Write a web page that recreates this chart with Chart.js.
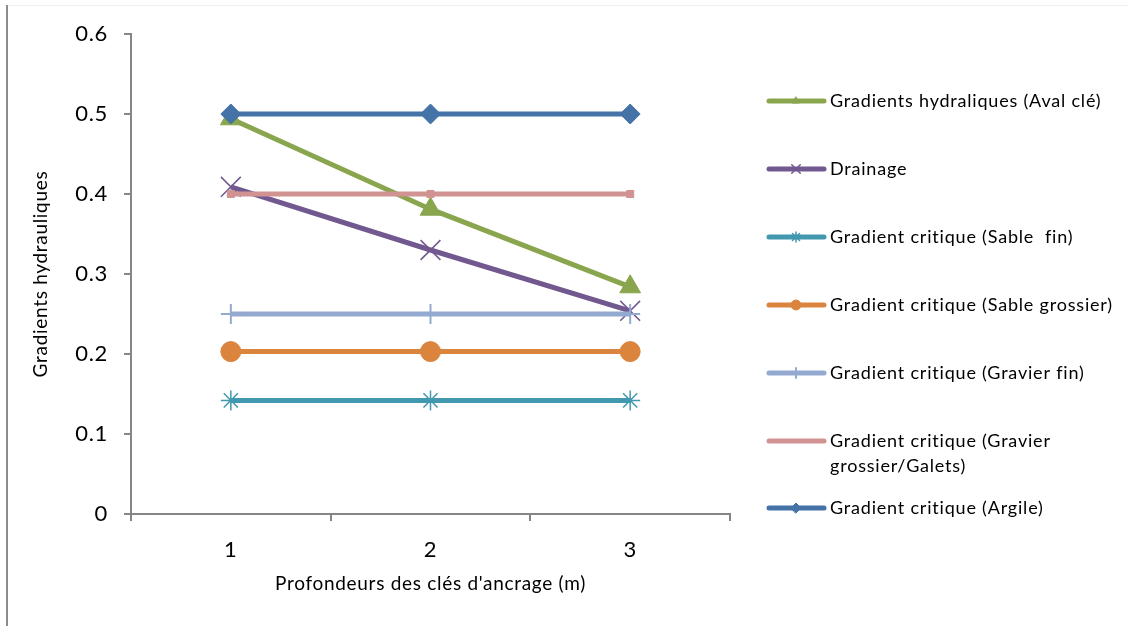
<!DOCTYPE html>
<html>
<head>
<meta charset="utf-8">
<script src="https://cdn.jsdelivr.net/npm/chart.js@4/dist/chart.umd.min.js"></script>
<style>
  html, body { margin: 0; padding: 0; background: #fff; }
  #wrap { width: 1129px; height: 626px; position: relative; }
</style>
</head>
<body>
<div id="wrap"><canvas id="chart"></canvas></div>
<script>
// données
const profondeurs = ['1', '2', '3'];
const avalCle = [0.494, 0.381, 0.284];
const drainage = [0.409, 0.330, 0.254];
const sableFin = [0.142, 0.142, 0.142];
const sableGrossier = [0.203, 0.203, 0.203];
const gravierFin = [0.25, 0.25, 0.25];
const gravierGrossier = [0.40, 0.40, 0.40];
const argile = [0.50, 0.50, 0.50];

const legendLabels = [
    ['Gradients hydraliques (Aval clé)'],
    ['Drainage'],
    ['Gradient critique (Sable  fin)'],
    ['Gradient critique (Sable grossier)'],
    ['Gradient critique (Gravier fin)'],
    ['Gradient critique (Gravier', 'grossier/Galets)'],
    ['Gradient critique (Argile)']
];

const FONT = 'Lato, "Open Sans", sans-serif';

function serie(label, data, color, style, radius, bw, legendRadius, idx) {
    return {
        label: label.join(' '),
        data: data,
        borderColor: color,
        backgroundColor: color,
        borderWidth: 5,
        pointStyle: style,
        pointRadius: radius,
        pointHoverRadius: radius,
        pointBorderWidth: bw,
        pointBorderColor: color,
        pointBackgroundColor: color,
        tension: 0,
        order: 10 - idx,
        legendRadius: legendRadius
    };
}

const datasets = [
    serie(legendLabels[0], avalCle, '#89A54E', 'triangle', 12, 1, 4, 0),
    serie(legendLabels[1], drainage, '#71588F', 'crossRot', 14, 1.5, 6, 1),
    serie(legendLabels[2], sableFin, '#4198AF', 'star', 10, 1.5, 5, 2),
    serie(legendLabels[3], sableGrossier, '#DB843D', 'circle', 10, 1, 5, 3),
    serie(legendLabels[4], gravierFin, '#93A9CF', 'cross', 10, 2, 5, 4),
    serie(legendLabels[5], gravierGrossier, '#D09392', 'rect', 5, 1, 0, 5),
    serie(legendLabels[6], argile, '#4572A7', 'rectRot', 10, 1, 5, 6)
];

// cadre gauche de l'image + espacement des lettres
const cadre = {
    id: 'cadre',
    beforeDraw(chart) {
        const ctx = chart.ctx;
        ctx.letterSpacing = '0.7px';
        ctx.save();
        ctx.strokeStyle = '#f0f0f0';
        ctx.lineWidth = 1;
        ctx.beginPath();
        ctx.moveTo(8, 5.5);
        ctx.lineTo(1129, 5.5);
        ctx.stroke();
        ctx.strokeStyle = '#8c8c8c';
        ctx.lineWidth = 2;
        ctx.beginPath();
        ctx.moveTo(7, 5);
        ctx.lineTo(7, 626);
        ctx.stroke();
        ctx.restore();
    }
};

// légende à droite, avec retour à la ligne
const legende = {
    id: 'legende',
    afterDraw(chart) {
        const ctx = chart.ctx;
        ctx.save();
        ctx.letterSpacing = '0.8px';
        ctx.font = '18px ' + FONT;
        ctx.textBaseline = 'middle';
        ctx.textAlign = 'left';
        let y = 101;
        chart.data.datasets.forEach((ds, i) => {
            const lines = legendLabels[i];
            ctx.strokeStyle = ds.borderColor;
            ctx.fillStyle = ds.borderColor;
            ctx.lineWidth = 5;
            ctx.lineCap = 'round';
            ctx.beginPath();
            ctx.moveTo(769, y);
            ctx.lineTo(824, y);
            ctx.stroke();
            if (ds.legendRadius > 0 && Chart.helpers && Chart.helpers.drawPoint) {
                ctx.lineWidth = ds.pointBorderWidth;
                Chart.helpers.drawPoint(ctx, {
                    pointStyle: ds.pointStyle,
                    radius: ds.legendRadius,
                    borderWidth: ds.pointBorderWidth,
                    rotation: 0
                }, 796, y);
            }
            ctx.fillStyle = '#000';
            lines.forEach((t, k) => ctx.fillText(t, 830, y + k * 25));
            y += (lines.length - 1) * 25 + 68 - (lines.length - 1) * 26;
        });
        ctx.restore();
    }
};

const ctx = document.getElementById('chart').getContext('2d');
const chart = new Chart(ctx, {
    type: 'line',
    data: { labels: profondeurs, datasets: datasets },
    options: {
        responsive: true,
        maintainAspectRatio: false,
        animation: false,
        layout: { padding: { top: 34, right: 399, left: 0, bottom: 0 } },
        plugins: {
            legend: { display: false },
            tooltip: { enabled: false }
        },
        scales: {
            x: {
                offset: true,
                grid: {
                    offset: true,
                    drawOnChartArea: false,
                    color: '#868686',
                    tickLength: 7,
                    lineWidth: 2
                },
                border: { color: '#868686', width: 2 },
                ticks: { color: '#000', font: { family: FONT, size: 22 }, padding: 16 },
                title: {
                    display: true,
                    text: "Profondeurs des clés d'ancrage (m)",
                    color: '#000',
                    font: { family: FONT, size: 19 },
                    padding: { top: 0, bottom: 31 }
                },
                afterFit(scale) { scale.height = 112; }
            },
            y: {
                min: 0,
                max: 0.6,
                ticks: {
                    stepSize: 0.1,
                    color: '#000',
                    font: { family: FONT, size: 22 },
                    padding: 16,
                    callback: v => Math.round(v * 10) / 10
                },
                grid: {
                    drawOnChartArea: false,
                    color: '#868686',
                    tickLength: 7,
                    lineWidth: 2
                },
                border: { color: '#868686', width: 2 },
                title: {
                    display: true,
                    text: 'Gradients hydrauliques',
                    color: '#000',
                    font: { family: FONT, size: 19 },
                    padding: { top: 29, bottom: 0 }
                },
                afterFit(scale) { scale.width = 131; }
            }
        }
    },
    plugins: [cadre, legende]
});
</script>
</body>
</html>
